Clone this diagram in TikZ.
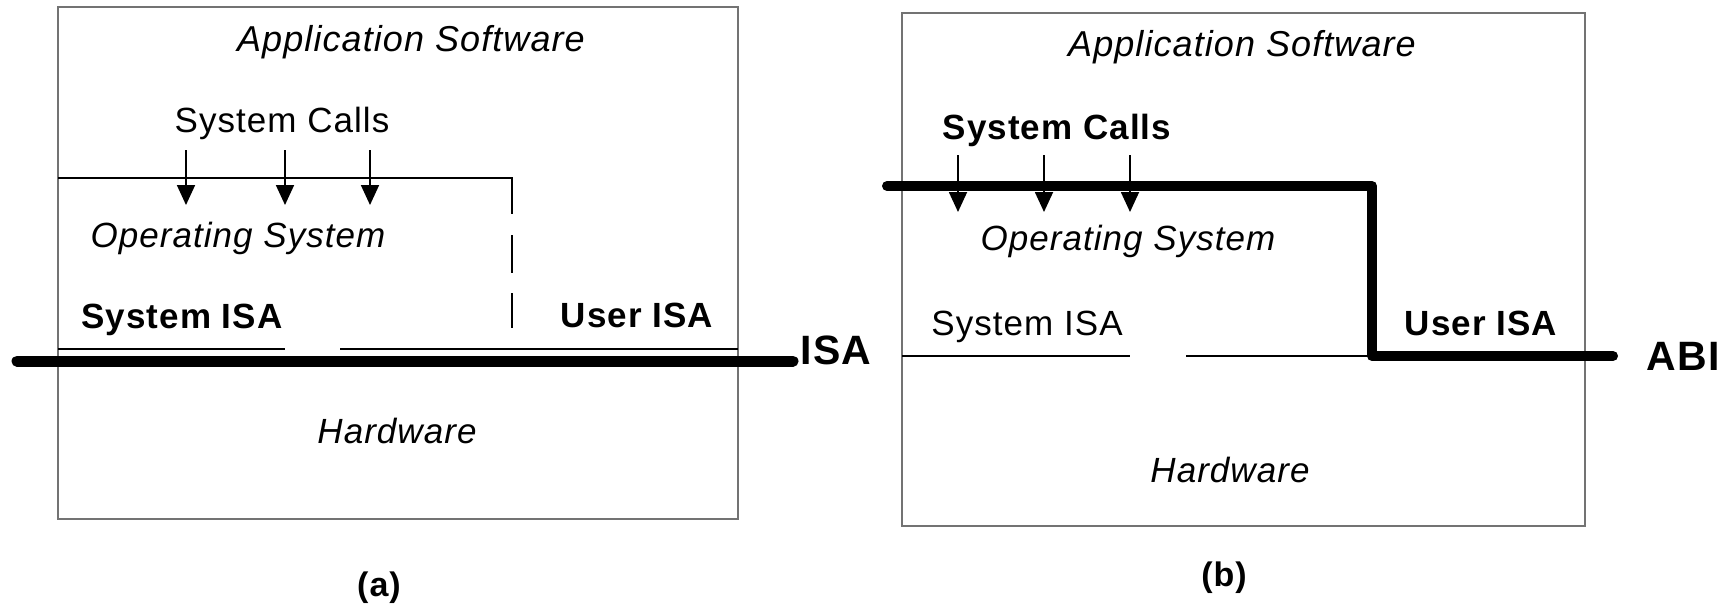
\documentclass[tikz,border=0pt]{standalone}
\usepackage{fontspec}
\setmainfont{Liberation Sans}[LetterSpace=3]
\usetikzlibrary{arrows.meta}
\tikzset{
  txt/.style={anchor=base, inner sep=0pt, font=\fontsize{17.5}{21}\selectfont},
  ittxt/.style={txt, font=\fontsize{17.5}{21}\selectfont\itshape},
  bftxt/.style={txt, font=\fontsize{17.5}{21}\selectfont\bfseries},
  bigtxt/.style={txt, font=\fontsize{20.5}{24}\selectfont\bfseries},
  frame/.style={draw=black!55, line width=0.6pt},
  osline/.style={draw=black, line width=1pt},
  level/.style={draw=black, line width=5.5pt, line cap=round, line join=round},
  call/.style={draw=black, line width=0.9pt, -{Triangle[length=10pt,width=9pt]}}
}
\begin{document}
\begin{tikzpicture}[x=0.5pt,y=0.5pt,yscale=-1,xscale=1]
\useasboundingbox (0,0) rectangle (1723,606);
% (a)
\draw [frame] (58,7) rectangle (738,519);
\draw [osline] (58,178) -- (512,178) -- (512,214);
\draw [osline, dash pattern=on 19pt off 10pt] (512,235) -- (512,328);
\draw [osline] (58,349) -- (285,349);
\draw [osline] (340,349) -- (738,349);
\draw [level] (17,361) -- (793,361);
\foreach \x [count=\i] in {186,285,370} {
  \coordinate (ta\i) at (\x,150);
  \coordinate (ha\i) at (\x,205);
  \draw [call] (ta\i) -- (ha\i);
}
\node [ittxt, font=\fontsize{18}{21}\selectfont\itshape] (appa) at (411,51) {Application Software};
\node [txt] (callsa) at (282,132) {System Calls};
\node [ittxt] (osa) at (238,247) {Operating System};
\node [bftxt] (sysa) at (182,328) {System ISA};
\node [bftxt] (usera) at (637,327) {User ISA};
\node [ittxt] (hwa) at (397,443) {Hardware};
\node [bigtxt] (isa) at (836,364) {ISA};
\node [bftxt, font=\fontsize{17}{20}\selectfont\bfseries] (capa) at (379,596) {(a)};
% (b)
\draw [frame] (902,13) rectangle (1585,526);
\draw [osline] (902,356) -- (1130,356);
\draw [osline] (1186,356) -- (1372,356);
\draw [level, line width=5pt] (887,186) -- (1372,186) -- (1372,356) -- (1613,356);
\foreach \x [count=\i] in {958,1044,1130} {
  \coordinate (tb\i) at (\x,155);
  \coordinate (hb\i) at (\x,212);
  \draw [call] (tb\i) -- (hb\i);
}
\node [ittxt, font=\fontsize{18}{21}\selectfont\itshape] (appb) at (1242,56) {Application Software};
\node [bftxt] (callsb) at (1057,139) {System Calls};
\node [ittxt] (osb) at (1128,250) {Operating System};
\node [txt] (sysb) at (1027,335) {System ISA};
\node [bftxt] (userb) at (1481,335) {User ISA};
\node [ittxt] (hwb) at (1230,482) {Hardware};
\node [bigtxt] (abi) at (1683,370) {ABI};
\node [bftxt, font=\fontsize{17}{20}\selectfont\bfseries] (capb) at (1224,586) {(b)};
\end{tikzpicture}
\end{document}
